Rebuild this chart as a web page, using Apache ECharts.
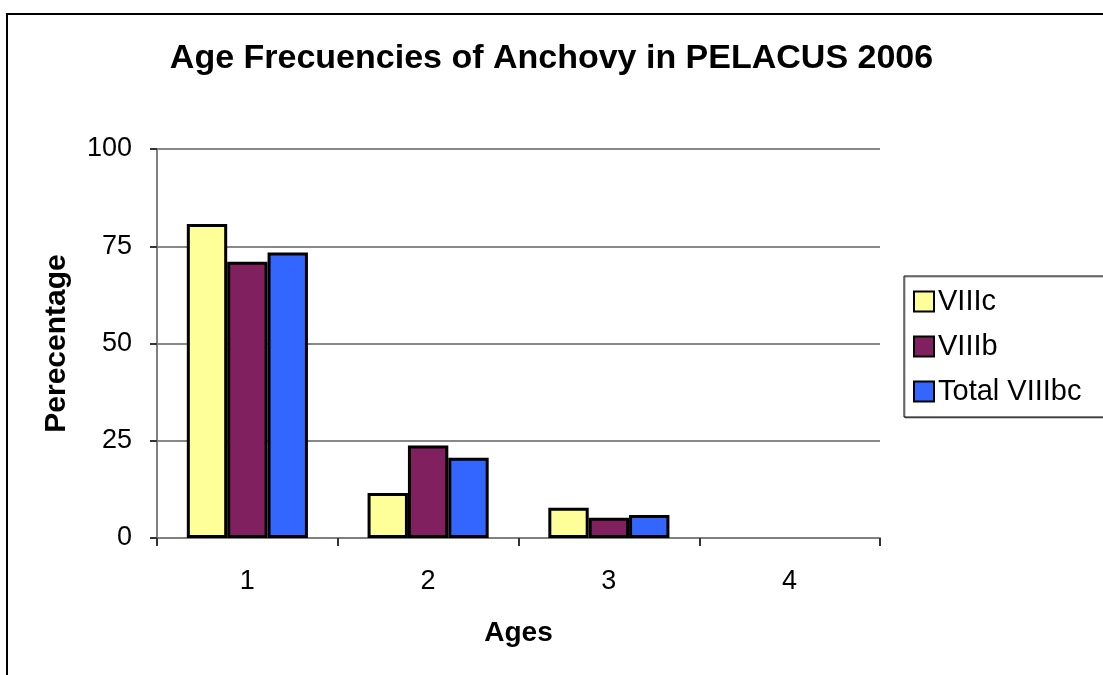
<!DOCTYPE html>
<html>
<head>
<meta charset="utf-8">
<script src="https://cdn.jsdelivr.net/npm/echarts@6/dist/echarts.min.js"></script>
<style>
  html, body { margin: 0; padding: 0; background: #fff; }
  #chart { width: 1103px; height: 675px; }
</style>
</head>
<body>
<div id="chart"></div>
<script>
// 数据
const ages = ["1", "2", "3", "4"];
const viiic = [80.7, 11.6, 7.8, null];
const viiib = [71.0, 23.8, 5.2, null];
const totalViiibc = [73.4, 20.6, 5.9, null];
const yTicks = [0, 25, 50, 75, 100];

const font = "'Liberation Sans', Arial, sans-serif";
const barBorder = { borderColor: "#000", borderWidth: 3 };

const chart = echarts.init(document.getElementById("chart"));
chart.setOption({
  animation: false,
  backgroundColor: "#fff",
  textStyle: { fontFamily: font },
  title: {
    text: "Age Frecuencies of Anchovy in PELACUS 2006",
    left: "center",
    top: 37,
    textStyle: { fontFamily: font, fontSize: 34, fontWeight: "bold", color: "#000" },
  },
  // 外框 (右边和下边出了画面)
  graphic: [
    {
      type: "rect",
      shape: { x: 7, y: 14, width: 1200, height: 800 },
      style: { fill: "none", stroke: "#000", lineWidth: 2 },
      silent: true,
    },
  ],
  legend: {
    left: 904,
    top: 276,
    orient: "vertical",
    padding: [11, 30, 11, 9],
    itemGap: 16,
    itemWidth: 20,
    itemHeight: 20,
    icon: "rect",
    borderColor: "#000",
    borderWidth: 1,
    backgroundColor: "#fff",
    shadowColor: "rgba(0,0,0,0.4)",
    shadowOffsetX: 1,
    shadowOffsetY: 1,
    textStyle: { fontFamily: font, fontSize: 29, color: "#000", lineHeight: 29, padding: [0, 0, 0, -1] },
    itemStyle: { borderColor: "#000", borderWidth: 2 },
    data: ["VIIIc", "VIIIb", "Total VIIIbc"],
  },
  grid: { left: 157, right: 223, top: 149, bottom: 137 },
  xAxis: {
    type: "category",
    data: ages,
    name: "Ages",
    nameLocation: "middle",
    nameGap: 81,
    nameTextStyle: { fontFamily: font, fontSize: 28, fontWeight: "bold", color: "#000" },
    axisLine: { lineStyle: { color: "#808080", width: 2 } },
    axisTick: { show: true, length: 8, inside: false, alignWithLabel: false, lineStyle: { color: "#333", width: 2 } },
    axisLabel: { margin: 30, fontFamily: font, fontSize: 27, color: "#000" },
    splitLine: { show: false },
  },
  yAxis: {
    type: "value",
    min: yTicks[0],
    max: yTicks[yTicks.length - 1],
    interval: 25,
    name: "Perecentage",
    nameLocation: "middle",
    nameGap: 85,
    nameTextStyle: { fontFamily: font, fontSize: 30, fontWeight: "bold", color: "#000" },
    axisLine: { show: true, lineStyle: { color: "#808080", width: 2 } },
    axisTick: { show: true, length: 7, inside: false, lineStyle: { color: "#333", width: 2 } },
    axisLabel: { margin: 25, fontFamily: font, fontSize: 27, color: "#000" },
    splitLine: { show: true, lineStyle: { color: "#606060", width: 1.5 } },
  },
  series: [
    {
      name: "VIIIc",
      type: "bar",
      data: viiic,
      barGap: "0%",
      barCategoryGap: "33%",
      itemStyle: { color: "#FFFF99", ...barBorder },
    },
    {
      name: "VIIIb",
      type: "bar",
      data: viiib,
      itemStyle: { color: "#80205E", ...barBorder },
    },
    {
      name: "Total VIIIbc",
      type: "bar",
      data: totalViiibc,
      itemStyle: { color: "#3366FF", ...barBorder },
    },
  ],
});
</script>
</body>
</html>
